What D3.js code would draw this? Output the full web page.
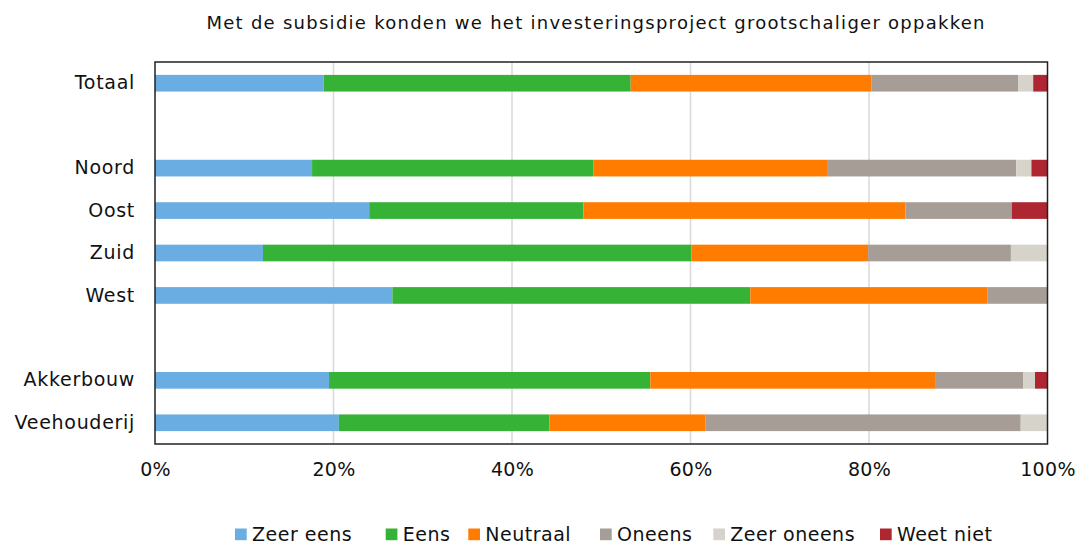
<!DOCTYPE html>
<html>
<head>
<meta charset="utf-8">
<script src="https://cdn.jsdelivr.net/npm/d3@7"></script>
<style>
  html, body { margin: 0; padding: 0; background: #fff; }
  svg { display: block; font-family: "DejaVu Sans", Verdana, sans-serif; }
</style>
</head>
<body>
<svg id="chart" width="1079" height="544"></svg>
<script>
const title = "Met de subsidie konden we het investeringsproject grootschaliger oppakken";
const rows = ["Totaal", "", "Noord", "Oost", "Zuid", "West", " ", "Akkerbouw", "Veehouderij"];
const categories = ["Totaal", "Noord", "Oost", "Zuid", "West", "Akkerbouw", "Veehouderij"];
const seriesNames = ["Zeer eens", "Eens", "Neutraal", "Oneens", "Zeer oneens", "Weet niet"];
const seriesColors = ["#6aade2", "#36b336", "#ff7c00", "#a69d96", "#d6d3cb", "#ad2630"];
const zeerEens   = [18.9, 17.6, 24.0, 12.1, 26.6, 19.5, 20.6];
const eens       = [34.4, 31.5, 24.0, 48.0, 40.1, 36.0, 23.6];
const neutraal   = [27.0, 26.2, 36.1, 19.8, 26.6, 31.9, 17.5];
const oneens     = [16.4, 21.2, 11.9, 16.0,  6.7,  9.9, 35.3];
const zeerOneens = [ 1.7,  1.7,  0.0,  4.1,  0.0,  1.3,  3.0];
const weetNiet   = [ 1.6,  1.8,  4.0,  0.0,  0.0,  1.4,  0.0];
const tickValues = [0, 0.2, 0.4, 0.6, 0.8, 1.0];

(function () {
const seriesValues = [zeerEens, eens, neutraal, oneens, zeerOneens, weetNiet];
const table = categories.map((c, i) => {
  const o = { category: c };
  seriesNames.forEach((s, j) => { o[s] = seriesValues[j][i]; });
  return o;
});
table.forEach(d => {
  const t = d3.sum(seriesNames, s => d[s]);
  seriesNames.forEach(s => { d[s] = d[s] / t; });
});

const svg = d3.select("#chart");
const mLeft = 155, mRight = 1047.5, mTop = 62, mBottom = 444;

const x = d3.scaleLinear().domain([0, 1]).range([mLeft, mRight]);
const y = d3.scaleBand().domain(rows).range([mTop, mBottom]).paddingInner(0.607).paddingOuter(0.3035);
const color = d3.scaleOrdinal().domain(seriesNames).range(seriesColors);

svg.append("text")
  .attr("x", 206.5).attr("y", 29)
  .attr("font-size", 18)
  .attr("fill", "#111")
  .attr("textLength", 778)
  .attr("lengthAdjust", "spacing")
  .text(title);

svg.append("g")
  .selectAll("line")
  .data(tickValues.slice(1, -1))
  .join("line")
  .attr("x1", d => x(d)).attr("x2", d => x(d))
  .attr("y1", mTop).attr("y2", mBottom)
  .attr("stroke", "#d9d9d9").attr("stroke-width", 1.5);

const stacked = d3.stack().keys(seriesNames)(table);
svg.append("g")
  .selectAll("g")
  .data(stacked)
  .join("g")
  .attr("fill", d => color(d.key))
  .selectAll("rect")
  .data(d => d)
  .join("rect")
  .attr("x", d => x(d[0]))
  .attr("width", d => Math.max(0, x(d[1]) - x(d[0])))
  .attr("y", d => y(d.data.category))
  .attr("height", y.bandwidth());

svg.append("rect")
  .attr("x", mLeft).attr("y", mTop)
  .attr("width", mRight - mLeft).attr("height", mBottom - mTop)
  .attr("fill", "none").attr("stroke", "#222").attr("stroke-width", 1.5);

const xAxis = d3.axisBottom(x).tickValues(tickValues).tickFormat(d3.format(".0%")).tickSize(0).tickPadding(0);
const gx = svg.append("g").attr("transform", `translate(0,${mBottom})`).call(xAxis);
gx.select(".domain").remove();
gx.selectAll("text").attr("font-size", 19).attr("fill", "#111")
  .attr("font-family", "DejaVu Sans, Verdana, sans-serif")
  .attr("letter-spacing", 0.3)
  .attr("dy", null).attr("y", 32);

const yAxis = d3.axisLeft(y).tickSize(0).tickPadding(20);
const gy = svg.append("g").attr("transform", `translate(${mLeft},0)`).call(yAxis);
gy.select(".domain").remove();
gy.selectAll("text").attr("font-size", 19).attr("fill", "#111")
  .attr("font-family", "DejaVu Sans, Verdana, sans-serif")
  .attr("letter-spacing", 0.7);

const legendX = [235, 385.7, 468.3, 600, 713.3, 880];
const lg = svg.append("g");
seriesNames.forEach((s, i) => {
  lg.append("rect").attr("x", legendX[i]).attr("y", 528.5).attr("width", 11.7).attr("height", 11.7).attr("fill", color(s));
  lg.append("text").attr("x", legendX[i] + 17).attr("y", 540.5).attr("font-size", 19)
    .attr("letter-spacing", 0.5).attr("fill", "#111").text(s);
});
})();
</script>
</body>
</html>
